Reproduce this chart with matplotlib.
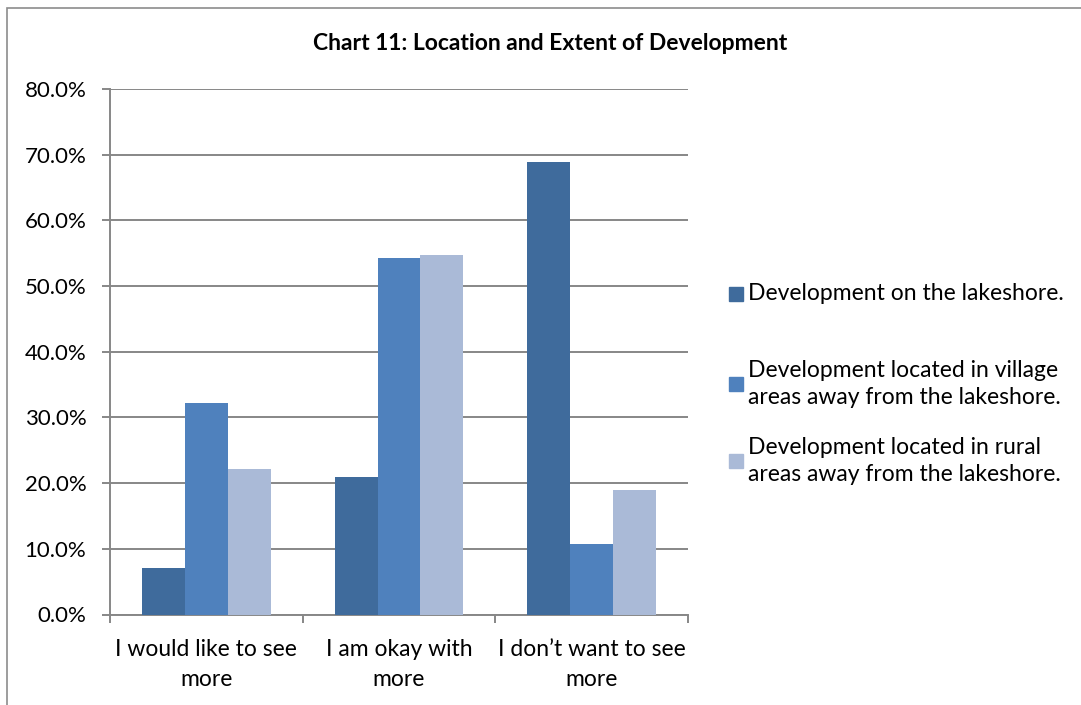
import numpy as np
import matplotlib.pyplot as plt
from matplotlib.patches import Rectangle

categories = ["I would like to see\nmore", "I am okay with\nmore", "I don\u2019t want to see\nmore"]
series_names = ["Development on the lakeshore.",
                "Development located in village\nareas away from the lakeshore.",
                "Development located in rural\nareas away from the lakeshore."]
lakeshore = [7.1, 20.9, 68.9]
village = [32.2, 54.2, 10.8]
rural = [22.2, 54.7, 18.9]
colors = ["#3F6B9C", "#4F81BD", "#AABAD7"]

plt.rcParams['font.family'] = ['Lato', 'DejaVu Sans']

fig = plt.figure(figsize=(10.81, 7.05), dpi=100)
ax = fig.add_axes([110/1081, 1 - 614.5/705, 578/1081, 525.5/705])

x = np.arange(len(categories))
w = 1 / 4.5
for i, vals in enumerate([lakeshore, village, rural]):
    ax.bar(x + (i - 1) * w, vals, width=w, color=colors[i], zorder=3)

grid_c = "#878787"
ax.set_xlim(-0.5, 2.5)
ax.set_ylim(0, 80)
ax.set_yticks(np.arange(0, 81, 10))
ax.set_yticklabels([f"{v:.1f}%" for v in np.arange(0, 81, 10)], fontsize=16)
ax.yaxis.grid(True, color=grid_c, linewidth=1.4, zorder=0)
ax.tick_params(axis='y', length=6, width=1.4, color=grid_c, pad=11)

ax.set_xticks(x)
ax.set_xticklabels(categories, fontsize=16.5, linespacing=1.5)
ax.set_xticks([-0.5, 0.5, 1.5, 2.5], minor=True)
ax.tick_params(axis='x', which='major', length=0, pad=18)
ax.tick_params(axis='x', which='minor', length=6, width=1.4, color=grid_c)

for s in ['top', 'right']:
    ax.spines[s].set_visible(False)
for s in ['left', 'bottom']:
    ax.spines[s].set_color(grid_c)
    ax.spines[s].set_linewidth(1.4)

fig.text(550/1081, 1 - 44/705, "Chart 11: Location and Extent of Development",
         ha='center', va='center', fontsize=16.5, fontweight='bold')

# legend, placed by hand like the original
leg_y = [294, 384, 461]
for name, c, yy in zip(series_names, colors, leg_y):
    fig.patches.append(Rectangle((729/1081, 1 - (yy + 7)/705), 14/1081, 14/705,
                                 transform=fig.transFigure, color=c))
    fig.text(748/1081, 1 - yy/705, name, ha='left', va='center',
             fontsize=16.5, linespacing=1.4)

# outer frame
fig.patches.append(Rectangle((7.5/1081, -0.1), 2, 1.1 - 8/705, transform=fig.transFigure,
                             fill=False, edgecolor="#8C8C8C", linewidth=1.2))

fig.savefig("out.png", dpi=100)
